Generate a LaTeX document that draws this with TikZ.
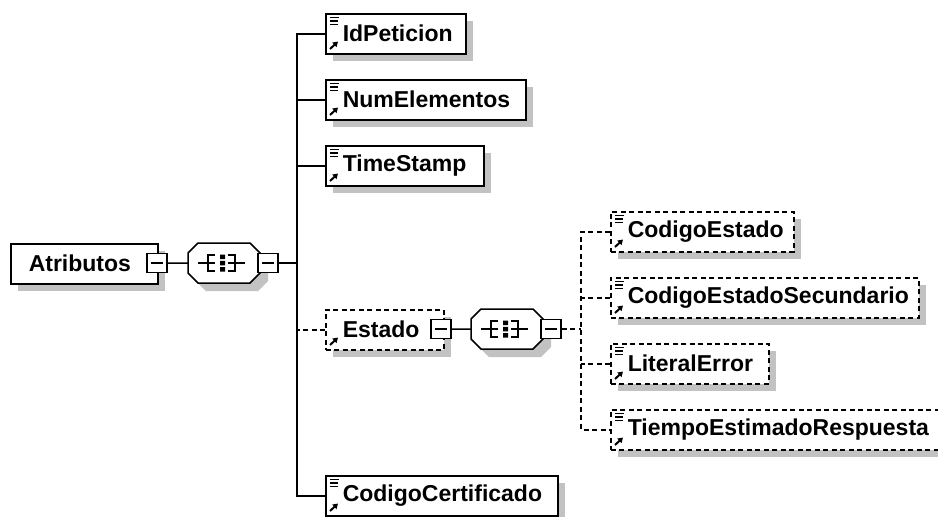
\documentclass[tikz,border=0pt]{standalone}
\usepackage{fontspec}
\setmainfont{Liberation Sans}
\usetikzlibrary{arrows.meta}
\tikzset{
  elembox/.style={draw=black, line width=1.5pt, fill=white, minimum height=40pt,
    inner xsep=0pt, inner ysep=0pt, anchor=north west, align=left,
    font=\fontsize{23}{27}\selectfont\bfseries},
  reqbox/.style={elembox},
  optbox/.style={elembox, dash pattern=on 5pt off 3.5pt},
  shadowc/.style={fill=black!24},
  minusbox/.style={draw=black, line width=1.5pt, fill=white, minimum width=20pt,
    minimum height=19pt, inner sep=0pt},
  conn/.style={line width=1.5pt},
  optconn/.style={conn, dash pattern=on 5pt off 3.5pt},
  seqframe/.style={minimum width=72pt, minimum height=40pt, inner sep=0pt, anchor=north west},
}
% #1 name, #2 x, #3 y top, #4 width, #5 text, #6 style, #7 show lines icon (1/0)
\newcommand{\xelem}[7]{%
  \fill[shadowc] (#2+8,#3+8) rectangle (#2+#4+8,#3+48);
  \node[#6, text width=#4pt] (#1) at (#2,#3) {\hspace*{17pt}#5};
  \ifnum#7=1
    \draw[line width=1.3pt] (#2+5,#3+4.5) -- ++(9,0) (#2+5,#3+8) -- ++(8,0) (#2+5,#3+11.5) -- ++(8,0);
  \fi
  \draw[line width=2pt, -{Triangle[length=5pt,width=6pt]}] (#2+5,#3+36) -- (#2+13,#3+28.5);
}
% #1 name, #2 x left, #3 y top
\newcommand{\xseq}[3]{%
  \fill[shadowc] (#2+18,#3+8) -- (#2+70,#3+8) -- (#2+80,#3+18) -- (#2+80,#3+38)
     -- (#2+70,#3+48) -- (#2+18,#3+48) -- (#2+8,#3+38) -- (#2+8,#3+18) -- cycle;
  \node[seqframe] (#1) at (#2,#3) {};
  \draw[conn, fill=white] (#2+10,#3) -- (#2+62,#3) -- (#2+72,#3+10) -- (#2+72,#3+30)
     -- (#2+62,#3+40) -- (#2+10,#3+40) -- (#2,#3+30) -- (#2,#3+10) -- cycle;
  \draw[line width=1.5pt] (#2+10,#3+20) -- (#2+27,#3+20)
     (#2+27,#3+12) -- (#2+20,#3+12) -- (#2+20,#3+28) -- (#2+27,#3+28)
     (#2+40,#3+20) -- (#2+57,#3+20)
     (#2+40,#3+12) -- (#2+47,#3+12) -- (#2+47,#3+28) -- (#2+40,#3+28);
  \fill (#2+32,#3+11.5) rectangle ++(5,4.5) (#2+32,#3+17.75) rectangle ++(5,4.5) (#2+32,#3+24) rectangle ++(5,4.5);
}
\newcommand{\xminus}[3]{%
  \node[minusbox] (#1) at (#2,#3) {};
  \draw[line width=1.5pt] (#2-6,#3) -- (#2+6,#3);
}
\begin{document}
\begin{tikzpicture}[x=1pt, y=-1pt]
  \useasboundingbox (0,0) rectangle (938,517);
  \clip (0,0) rectangle (938,517);
  \fill[white] (0,0) rectangle (938,517);

  % root
  \fill[shadowc] (18,251) rectangle (165,291);
  \node[reqbox, text width=147pt] (atr) at (10,243) {\hspace*{18pt}Atributos};
  \xminus{atrm}{157}{263}
  \xseq{seqa}{188}{243}
  \xminus{seqam}{268}{263}
  \coordinate (busa) at (297,263);

  % first level children
  \xelem{idp}{325}{13}{140}{IdPeticion}{reqbox}{1}
  \xelem{num}{325}{79}{200}{NumElementos}{reqbox}{1}
  \xelem{tst}{325}{145}{158}{TimeStamp}{reqbox}{1}
  \xelem{est}{325}{309}{118}{Estado}{optbox}{0}
  \xelem{cert}{325}{475}{232}{CodigoCertificado}{reqbox}{1}

  \xminus{estm}{441}{329}
  \xseq{seqb}{471}{309}
  \xminus{seqbm}{551}{329}
  \coordinate (busb) at (581,329);

  % second level children
  \xelem{ce}{610}{211}{183}{CodigoEstado}{optbox}{1}
  \xelem{ces}{610}{277}{308}{CodigoEstadoSecundario}{optbox}{1}
  \xelem{le}{610}{343}{158}{LiteralError}{optbox}{1}
  \xelem{ter}{610}{409}{340}{TiempoEstimadoRespuesta}{optbox}{1}

  % connectors root
  \draw[conn] (atrm.east) -- (seqa.west);
  \draw[conn] (seqam.east) -- (busa);
  \draw[conn] (idp.west) -- ++(-28,0) |- (cert.west);
  \draw[conn] (num.west) -- ++(-28,0);
  \draw[conn] (tst.west) -- ++(-28,0);
  \draw[optconn] (est.west) -- ++(-28,0);

  % connectors Estado
  \draw[conn] (estm.east) -- (seqb.west);
  \draw[optconn] (seqbm.east) -- (busb);
  \draw[optconn] (ce.west) -- ++(-29,0) |- (ter.west);
  \draw[optconn] (ces.west) -- ++(-29,0);
  \draw[optconn] (le.west) -- ++(-29,0);
\end{tikzpicture}
\end{document}
